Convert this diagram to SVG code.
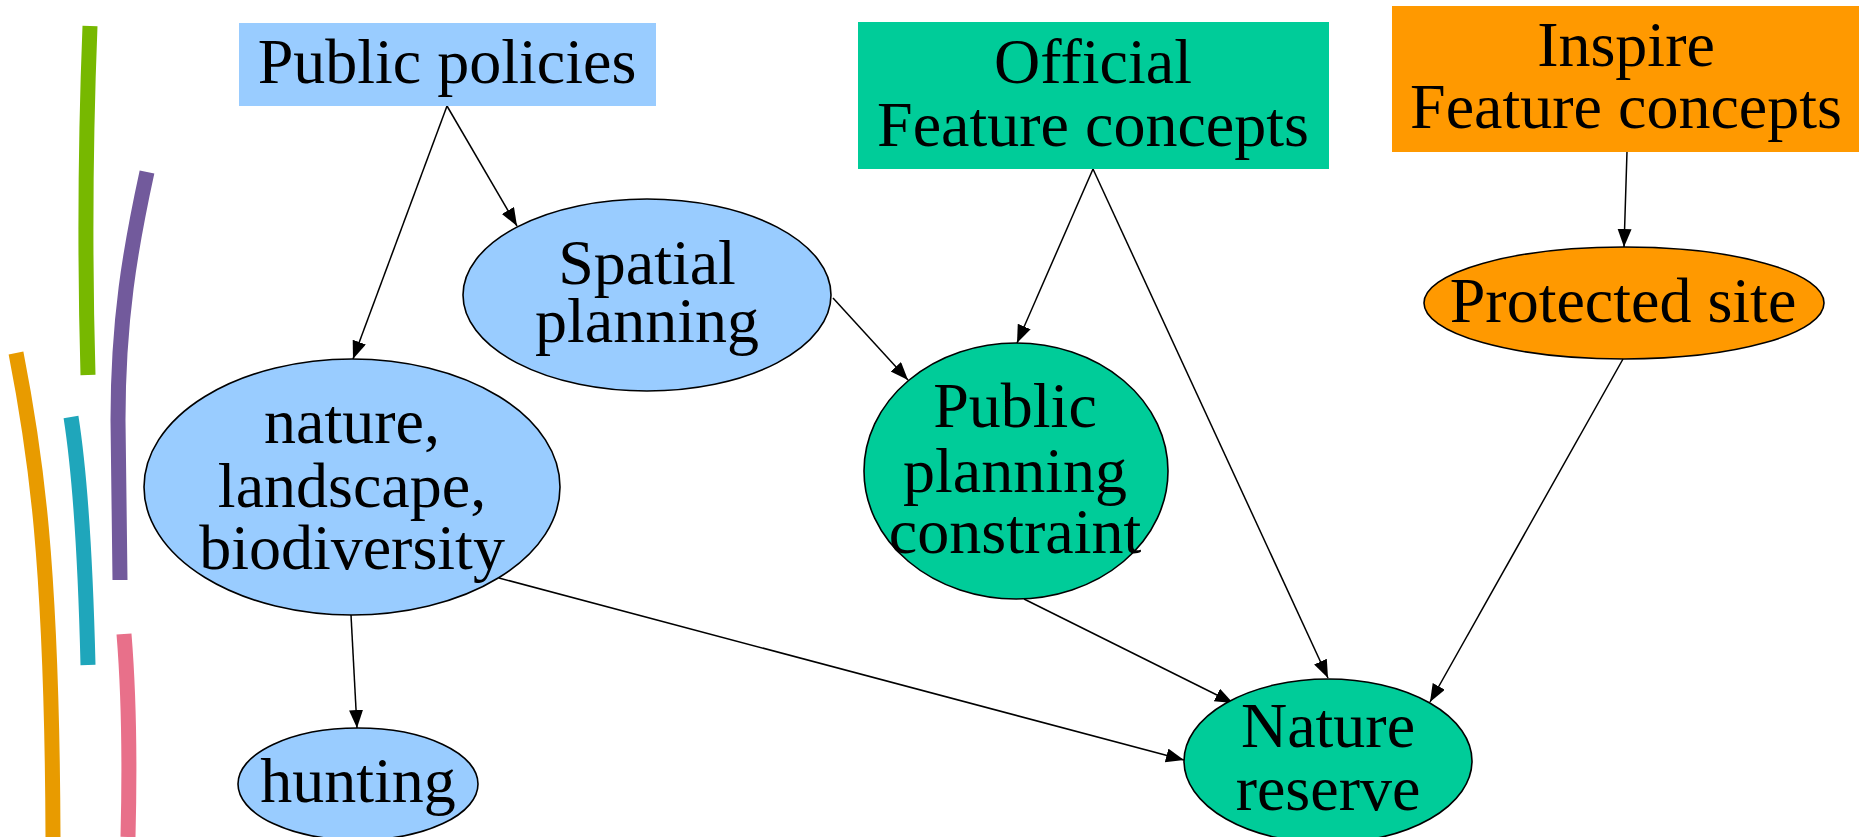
<svg xmlns="http://www.w3.org/2000/svg" width="1859" height="837" viewBox="0 0 1859 837">
<style>
text{font-family:"Liberation Serif","Times New Roman",serif;font-size:64px;fill:#000;text-anchor:middle}
.blue{fill:#99ccff}
.green{fill:#00cc99}
.orange{fill:#ff9900}
.ell{stroke:#000;stroke-width:1.6}
.edge{stroke:#000;stroke-width:1.5;fill:none;marker-end:url(#arr)}
.stroke{fill:none;stroke-width:15;stroke-linecap:butt}
</style>
<defs>
<marker id="arr" markerUnits="userSpaceOnUse" markerWidth="20" markerHeight="16" refX="18" refY="7" orient="auto">
<path d="M0,0 L18,7 L0,14 Z" fill="#000"/>
</marker>
</defs>
<g id="decor">
<path class="stroke" stroke="#77b800" d="M90 26 Q83 200 88 375"/>
<path class="stroke" stroke="#725a9c" d="M147 172 C130 250 118 320 118 420 L120 580"/>
<path class="stroke" stroke="#e89b00" d="M16 353 C35 450 52 560 53 837"/>
<path class="stroke" stroke="#1fa6bb" d="M71 417 Q84 500 88 665"/>
<path class="stroke" stroke="#e8708a" d="M124 634 Q131 720 128 837"/>
</g>
<g id="edges">
<line class="edge" x1="447" y1="106" x2="353" y2="359"/>
<line class="edge" x1="447" y1="106" x2="517" y2="226"/>
<line class="edge" x1="833" y1="298" x2="908" y2="380"/>
<line class="edge" x1="1093" y1="169" x2="1017" y2="343"/>
<line class="edge" x1="1093" y1="169" x2="1328" y2="678"/>
<line class="edge" x1="1627" y1="152" x2="1624" y2="247"/>
<line class="edge" x1="1623" y1="359" x2="1430" y2="702"/>
<line class="edge" x1="1024" y1="599" x2="1233" y2="703"/>
<line class="edge" x1="499" y1="578" x2="1184" y2="760"/>
<line class="edge" x1="351" y1="615" x2="357" y2="728"/>
</g>
<g id="public-policies">
<rect class="blue" x="239" y="23" width="417" height="83"/>
<text x="447" y="83">Public policies</text>
</g>
<g id="official">
<rect class="green" x="858" y="22" width="471" height="147"/>
<text x="1093" y="83">Official</text>
<text x="1093" y="146">Feature concepts</text>
</g>
<g id="inspire">
<rect class="orange" x="1392" y="6" width="467" height="146"/>
<text x="1626" y="66">Inspire</text>
<text x="1626" y="128">Feature concepts</text>
</g>
<g id="spatial-planning">
<ellipse class="blue ell" cx="647" cy="295" rx="184" ry="96"/>
<text x="647" y="284">Spatial</text>
<text x="647" y="342">planning</text>
</g>
<g id="nature">
<ellipse class="blue ell" cx="352" cy="487" rx="208" ry="128"/>
<text x="352" y="443">nature,</text>
<text x="352" y="507">landscape,</text>
<text x="352" y="569">biodiversity</text>
</g>
<g id="hunting">
<ellipse class="blue ell" cx="358" cy="784" rx="120" ry="56"/>
<text x="358" y="802">hunting</text>
</g>
<g id="public-planning-constraint">
<ellipse class="green ell" cx="1016" cy="471" rx="152" ry="128"/>
<text x="1015" y="427">Public</text>
<text x="1015" y="492">planning</text>
<text x="1015" y="553">constraint</text>
</g>
<g id="protected-site">
<ellipse class="orange ell" cx="1624" cy="303" rx="200" ry="56"/>
<text x="1623" y="322">Protected site</text>
</g>
<g id="nature-reserve">
<ellipse class="green ell" cx="1328" cy="761" rx="144" ry="82"/>
<text x="1328" y="747">Nature</text>
<text x="1328" y="810">reserve</text>
</g>
</svg>
